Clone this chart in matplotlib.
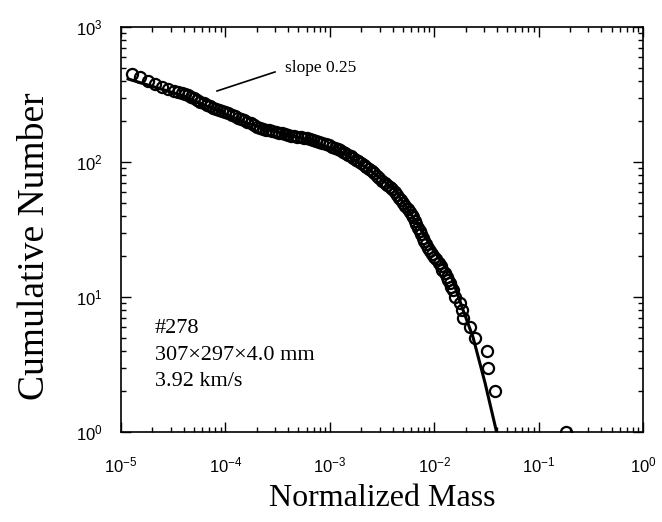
import numpy as np
import matplotlib.pyplot as plt
from matplotlib.ticker import LogLocator, LogFormatterSciNotation, NullFormatter

plt.rcParams['font.family'] = 'Liberation Sans'
plt.rcParams['mathtext.default'] = 'regular'

# fragment data: normalized mass vs cumulative number
mass = [1.27e-5, 1.52e-5, 1.82e-5, 2.12e-5, 2.45e-5, 2.82e-5, 3.2e-5, 3.5e-5,
        3.81e-5, 4.1e-5, 4.38e-5,
        4.68e-5, 5.01e-5, 5.37e-5, 5.75e-5, 6.17e-5, 6.61e-5, 7.08e-5, 7.59e-5,
        8.13e-5, 8.71e-5, 9.33e-5, 1.0e-4, 1.07e-4, 1.15e-4, 1.23e-4, 1.32e-4,
        1.41e-4, 1.51e-4, 1.62e-4, 1.74e-4, 1.86e-4, 2.0e-4, 2.14e-4, 2.29e-4,
        2.45e-4, 2.63e-4, 2.82e-4, 3.02e-4, 3.24e-4, 3.47e-4, 3.72e-4, 3.98e-4,
        4.27e-4, 4.57e-4, 4.90e-4, 5.25e-4, 5.62e-4, 6.03e-4, 6.46e-4, 6.92e-4,
        7.41e-4, 7.94e-4, 8.51e-4, 9.12e-4, 9.77e-4, 1.05e-3, 1.12e-3, 1.20e-3,
        1.26e-3, 1.33e-3, 1.41e-3, 1.50e-3, 1.58e-3, 1.68e-3, 1.78e-3, 1.88e-3,
        2.00e-3, 2.11e-3, 2.24e-3, 2.37e-3, 2.51e-3, 2.66e-3, 2.82e-3, 2.99e-3,
        3.16e-3, 3.35e-3, 3.55e-3, 3.76e-3, 3.98e-3, 4.22e-3, 4.42e-3, 4.62e-3,
        4.84e-3, 5.07e-3, 5.31e-3, 5.56e-3, 5.82e-3, 6.10e-3, 6.31e-3, 6.53e-3,
        6.76e-3, 7.00e-3, 7.24e-3, 7.50e-3, 7.76e-3, 8.04e-3, 8.32e-3, 8.71e-3,
        9.12e-3, 9.55e-3, 1.00e-2, 1.05e-2, 1.10e-2, 1.15e-2, 1.20e-2, 1.26e-2,
        1.32e-2, 1.36e-2, 1.41e-2, 1.46e-2, 1.51e-2,
        0.0158, 0.01767, 0.01832, 0.01888, 0.02203, 0.0246, 0.0318, 0.0327,
        0.0382, 0.183]
number = [449, 424, 400, 378, 361, 348, 336, 329,
          323, 318, 314,
          305, 296, 287, 279, 272, 265, 258, 251,
          247, 242, 238, 233, 229, 224, 219, 213,
          208, 203, 198, 193, 188, 183, 179, 176,
          174, 172, 169, 167, 165, 163, 161, 159,
          157, 155, 153, 152, 151, 150, 148, 145,
          143, 141, 139, 136, 133, 130, 127, 124,
          123, 119, 116, 113, 110, 107, 104, 101,
          98, 95, 91.6, 88.7, 85.5, 82.2, 78.9, 75.9,
          72.8, 70.1, 67.6, 65.2, 62.8, 59.7, 57.0, 54.5,
          51.9, 49.5, 47.1, 44.8, 42.7, 40.6, 39.1, 36.8,
          34.7, 32.7, 30.9, 29.2, 27.5, 26.0, 24.5, 23.0,
          21.9, 20.9, 19.9, 19.0, 17.9, 16.9, 15.9, 15.0,
          14.1, 13.4, 12.6, 11.9, 11.3,
          10, 9, 8, 7, 6, 5, 4, 3,
          2, 1]

# fitted curve
fit_mass = [1.17e-5, 3.76e-5, 1.57e-4, 5.19e-4, 1.25e-3, 2.44e-3, 4.22e-3,
            6.55e-3, 9.75e-3, 1.42e-2, 1.89e-2, 2.35e-2, 3.07e-2, 4.02e-2]
fit_number = [412, 313, 195, 151, 120, 87, 62,
              37, 22.3, 15.1, 8.0, 5.06, 2.31, 0.95]

fig = plt.figure(figsize=(6.62, 5.22), dpi=100)
ax = fig.add_axes([121/662, 1-432/522, 522/662, 405/522])

ax.plot(fit_mass, fit_number, color='black', lw=2.2, zorder=2)
ax.plot(mass, number, ls='none', marker='o', ms=8, mfc='none', mec='black',
        mew=1.6, zorder=3)

ax.set_xscale('log')
ax.set_yscale('log')
ax.set_xlim(1e-5, 1e0)
ax.set_ylim(1e0, 1e3)

for axis in (ax.xaxis, ax.yaxis):
    axis.set_major_locator(LogLocator(base=10, numticks=10))
    axis.set_minor_locator(LogLocator(base=10, subs=np.arange(2, 10), numticks=10))
    axis.set_major_formatter(LogFormatterSciNotation())
    axis.set_minor_formatter(NullFormatter())
ax.tick_params(which='both', direction='in', top=True, right=True, width=1)
ax.tick_params(which='major', length=7, labelsize=12)
ax.tick_params(which='minor', length=3.5)
ax.tick_params(axis='x', which='major', pad=17)
ax.tick_params(axis='y', which='major', pad=13)
for s in ax.spines.values():
    s.set_linewidth(1.2)

serif = 'Liberation Serif'
ax.set_xlabel('Normalized Mass', family=serif, fontsize=23)
ax.xaxis.set_label_coords(0.5, -0.128)
ax.set_ylabel('Cumulative Number', family=serif, fontsize=27)
ax.yaxis.set_label_coords(-0.132, 0.46)

ax.text(0.314, 0.899, 'slope 0.25', transform=ax.transAxes, family=serif,
        fontsize=12.5, va='center', ha='left')
ax.plot([0.184, 0.295], [0.842, 0.889], transform=ax.transAxes, color='black', lw=1.2)

ax.text(0.065, 0.255, '#278', transform=ax.transAxes, family=serif, fontsize=16, va='center')
ax.text(0.065, 0.19, '307\u00d7297\u00d74.0 mm', transform=ax.transAxes, family=serif,
        fontsize=16, va='center')
ax.text(0.065, 0.125, '3.92 km/s', transform=ax.transAxes, family=serif, fontsize=16,
        va='center')

fig.savefig('out.png', dpi=100)
